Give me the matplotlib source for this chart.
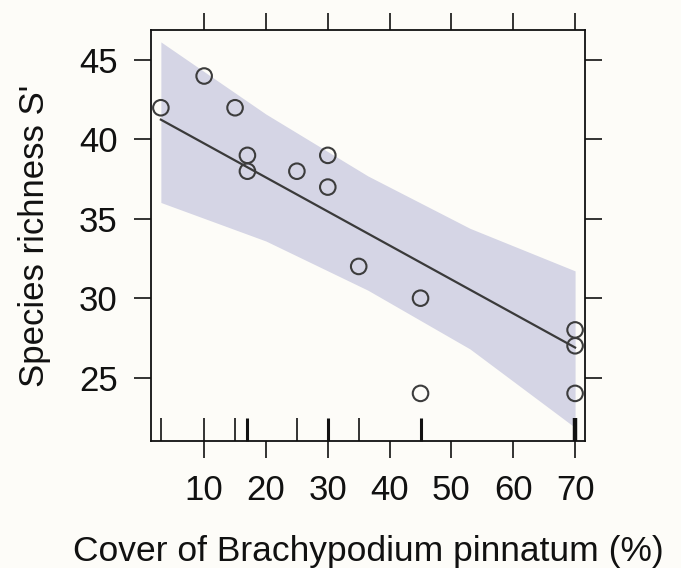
import numpy as np
import matplotlib.pyplot as plt

# observed data
cover = [3, 10, 15, 17, 17, 25, 30, 30, 35, 45, 45, 70, 70, 70]
richness = [42, 44, 42, 39, 38, 38, 39, 37, 32, 30, 24, 28, 27, 24]

# fitted effect
fit_x = [3, 70]
fit_y = [41.25, 26.89]
band_x = [3, 20, 36.5, 53, 70]
band_hi = [46.15, 41.6, 37.7, 34.4, 31.72]
band_lo = [36.03, 33.6, 30.5, 26.8, 21.85]

xticks = [10, 20, 30, 40, 50, 60, 70]
yticks = [25, 30, 35, 40, 45]

BG = "#fdfcf8"
INK = "#111111"
plt.rcParams["font.family"] = ["Liberation Sans", "DejaVu Sans"]

fig = plt.figure(figsize=(6.81, 5.68), dpi=100, facecolor=BG)
ax = fig.add_axes([0.2217, 0.2236, 0.6373, 0.7236], facecolor=BG)

ax.fill_between(band_x, band_lo, band_hi, color="#d5d5e5", lw=0, zorder=1)
ax.plot(fit_x, fit_y, color="#3a3a3a", lw=1.6, zorder=2)
ax.scatter(cover, richness, s=125, facecolors="none", edgecolors="#3c3c3c",
           linewidths=1.5, zorder=3)

# rug along the bottom, heavier where values repeat
vals, counts = np.unique(cover, return_counts=True)
for v, c in zip(vals, counts):
    ax.plot([v, v], [0, 0.055], transform=ax.get_xaxis_transform(),
            color=INK, lw=1.2 + 1.0 * (c - 1), solid_capstyle="butt",
            zorder=2, clip_on=False)

ax.set_xlim(1.4, 71.6)
ax.set_ylim(21.0, 46.9)
ax.set_xticks(xticks)
ax.set_yticks(yticks)
ax.tick_params(axis="both", which="both", direction="out", length=12, width=1.2,
               colors=INK, labelsize=25, labelcolor=INK,
               top=True, right=True, labeltop=False, labelright=False)
ax.tick_params(axis="x", pad=12)
ax.tick_params(axis="y", pad=12)
for s in ax.spines.values():
    s.set_linewidth(1.3)
    s.set_color(INK)

ax.set_xlabel("Cover of Brachypodium pinnatum (%)", fontsize=25.5, labelpad=20,
              color=INK)
ax.set_ylabel("Species richness S'", fontsize=25, labelpad=20, color=INK)

fig.savefig("out.png", dpi=100, facecolor=BG)
